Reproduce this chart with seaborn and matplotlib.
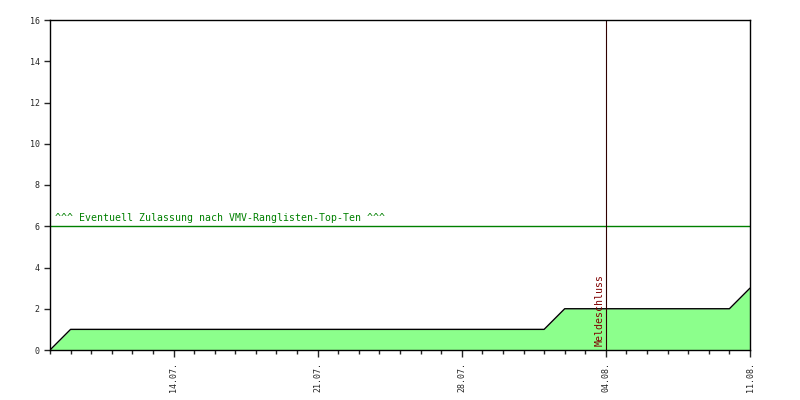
import pandas as pd
import matplotlib as mpl
mpl.use('Agg')
import matplotlib.pyplot as plt
import matplotlib.dates as mdates
import seaborn as sns

# daily counts of entries
days = pd.date_range('2012-07-08', '2012-08-11', freq='D')
counts = [0] + [1] * 24 + [2] * 9 + [3]
tick_labels = ['14.07.', '21.07.', '28.07.', '04.08.', '11.08.']
limit_value = 6
limit_text = '^^^ Eventuell Zulassung nach VMV-Ranglisten-Top-Ten ^^^'
deadline = pd.Timestamp('2012-08-04')
deadline_text = 'Meldeschluss'

df = pd.DataFrame({'date': days, 'count': counts})

sns.set_style('white')
plt.rcParams['font.family'] = ['DejaVu Sans Mono']

fig = plt.figure(figsize=(8, 4), dpi=100)
ax = fig.add_axes([0.0625, 0.125, 0.875, 0.825])

ax.fill_between(df['date'], df['count'], 0, color='#8cff8c', linewidth=0)
sns.lineplot(data=df, x='date', y='count', ax=ax, color='black', linewidth=1)

ax.axhline(limit_value, color='#008000', linewidth=1)
ax.text(pd.Timestamp('2012-07-08 06:00'), limit_value + 0.15, limit_text,
        color='#008000', fontsize=7.1, va='bottom', ha='left')

ax.axvline(deadline, color='#300000', linewidth=0.8)
ax.text(deadline - pd.Timedelta(hours=2), 0.2, deadline_text, rotation=90,
        color='#800000', fontsize=7.1, ha='right', va='bottom')

ax.set_xlim(days[0], days[-1])
ax.set_ylim(0, 16)
ax.set_yticks(range(0, 17, 2))
ax.set_xticks(pd.to_datetime(['2012-07-14', '2012-07-21', '2012-07-28', '2012-08-04', '2012-08-11']))
ax.set_xticklabels(tick_labels, rotation=90, fontsize=6)
ax.xaxis.set_minor_locator(mdates.DayLocator())
ax.tick_params(axis='y', labelsize=6, length=4, width=1, left=True)
ax.tick_params(axis='x', which='major', length=5, width=1, bottom=True)
ax.tick_params(axis='x', which='minor', length=3, width=1, bottom=True)
ax.set_xlabel('')
ax.set_ylabel('')
for s in ax.spines.values():
    s.set_color('black')
    s.set_linewidth(1)

fig.savefig('out.png', dpi=100)
